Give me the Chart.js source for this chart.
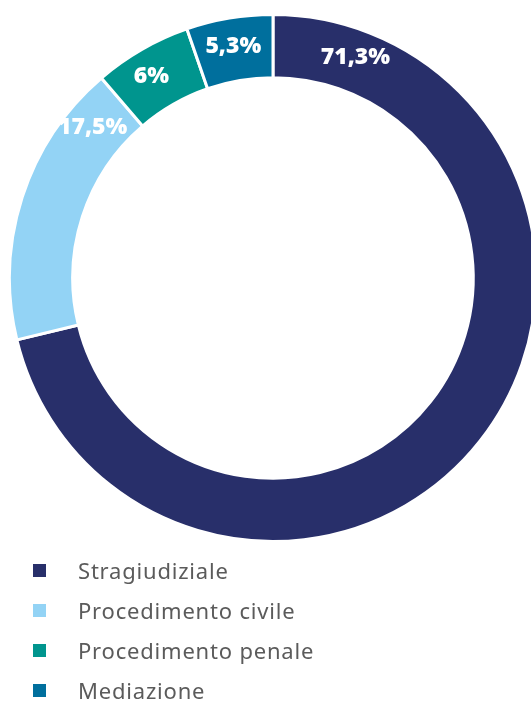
<!DOCTYPE html>
<html>
<head>
<meta charset="utf-8">
<script src="https://cdn.jsdelivr.net/npm/chart.js@4.4.0/dist/chart.umd.min.js"></script>
<style>
  html, body { margin: 0; padding: 0; background: #fff; overflow: hidden; }
  body { width: 531px; height: 702px; position: relative; }
  #wrap { position: absolute; left: 0; top: 0; width: 546px; height: 556px; }
  #legend { position: absolute; left: 33px; top: 550px; font-family: "Noto Sans", sans-serif; font-size: 22px; letter-spacing: 0.8px; color: #5b5b5b; }
  #legend .row { display: flex; align-items: center; height: 40px; }
  #legend .box { width: 13px; height: 13px; margin-right: 32px; }
</style>
</head>
<body>
<div id="wrap"><canvas id="myChart" width="546" height="556"></canvas></div>
<div id="legend"></div>
<script>
const categories = ["Stragiudiziale", "Procedimento civile", "Procedimento penale", "Mediazione"];
const values = [71.3, 17.5, 6, 5.3];
const valueLabels = ["71,3%", "17,5%", "6%", "5,3%"];
const colors = ["#282f6a", "#93d3f5", "#00958e", "#006f9d"];

// where along each slice the label sits (0 = start, 1 = end)
const labelAlong = [0.08, 0.85, 0.44, 0.49];

const sliceLabels = {
  id: "sliceLabels",
  afterDatasetsDraw(chart) {
    const ctx = chart.ctx;
    const arcs = chart.getDatasetMeta(0).data;
    ctx.save();
    ctx.fillStyle = "#fff";
    ctx.font = "800 23px 'Open Sans', sans-serif";
    ctx.textAlign = "center";
    ctx.textBaseline = "middle";
    arcs.forEach((arc, i) => {
      const a = arc.startAngle + (arc.endAngle - arc.startAngle) * labelAlong[i];
      const r = arc.innerRadius + (arc.outerRadius - arc.innerRadius) * 0.55;
      ctx.fillText(valueLabels[i], arc.x + Math.cos(a) * r, arc.y + Math.sin(a) * r);
    });
    ctx.restore();
  }
};

new Chart(document.getElementById("myChart").getContext("2d"), {
  type: "doughnut",
  data: {
    labels: categories,
    datasets: [{
      data: values,
      backgroundColor: colors,
      borderColor: "#fff",
      borderWidth: 3
    }]
  },
  options: {
    responsive: false,
    animation: false,
    cutout: "76%",
    layout: { padding: { left: 8, right: 8, top: 13, bottom: 13 } },
    plugins: {
      legend: { display: false },
      tooltip: { enabled: false }
    }
  },
  plugins: [sliceLabels]
});

const legend = document.getElementById("legend");
categories.forEach((c, i) => {
  const row = document.createElement("div");
  row.className = "row";
  row.innerHTML = '<span class="box" style="background:' + colors[i] + '"></span><span>' + c + '</span>';
  legend.appendChild(row);
});
</script>
</body>
</html>
